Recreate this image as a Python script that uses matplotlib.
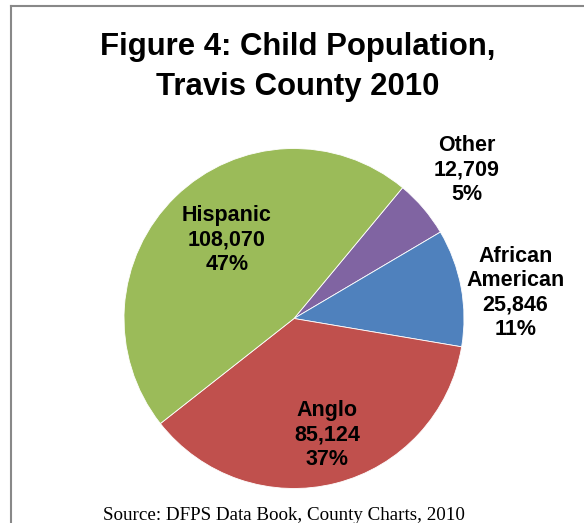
import numpy as np
import matplotlib
matplotlib.use('Agg')
import matplotlib.pyplot as plt

# data
groups = ['Other', 'African\nAmerican', 'Anglo', 'Hispanic']
counts = [12709, 25846, 85124, 108070]
pcts = ['5%', '11%', '37%', '47%']
colors = ['#8064A2', '#4F81BD', '#C0504D', '#9BBB59']

# label placement: radial distance and small angle nudge (deg)
label_r = [1.34, 1.31, 0.712, 0.607]
label_nudge = [0.2, -3.9, 1.5, -3.7]

fig = plt.figure(figsize=(5.84, 5.23), dpi=100)

# frame like the exported excel chart (top and left border only visible)
fig.add_artist(plt.Line2D([11/584, 11/584], [0, 1 - 6/523], color='#888888', lw=1.5))
fig.add_artist(plt.Line2D([11/584, 1], [1 - 6/523, 1 - 6/523], color='#888888', lw=1.5))

fig.text(298/584, 1 - 67/523, 'Figure 4: Child Population,\nTravis County 2010',
         ha='center', va='center', fontsize=22.4, fontweight='bold',
         family='Liberation Sans', linespacing=1.4)

ax = fig.add_axes([124/584, 34.5/523, 340/584, 340/523])
wedges, _ = ax.pie(counts, colors=colors, startangle=50.3, counterclock=False,
                   radius=1, wedgeprops=dict(linewidth=0.6, edgecolor='white'))
ax.set_xlim(-1, 1)
ax.set_ylim(-1, 1)
ax.set_aspect('equal')
ax.axis('off')

for i, w in enumerate(wedges):
    mid = np.deg2rad((w.theta1 + w.theta2) / 2 + label_nudge[i])
    x = label_r[i] * np.cos(mid)
    y = label_r[i] * np.sin(mid)
    txt = groups[i] + '\n' + format(counts[i], ',') + '\n' + pcts[i]
    ax.text(x, y, txt, ha='center', va='center', multialignment='center',
            fontsize=15.5, fontweight='bold', family='Liberation Sans',
            linespacing=1.2, clip_on=False)

fig.text(284/584, 1 - 516/523, 'Source: DFPS Data Book, County Charts, 2010',
         ha='center', va='center', fontsize=13.7, family='Liberation Serif')

fig.savefig('out.png', dpi=100)
